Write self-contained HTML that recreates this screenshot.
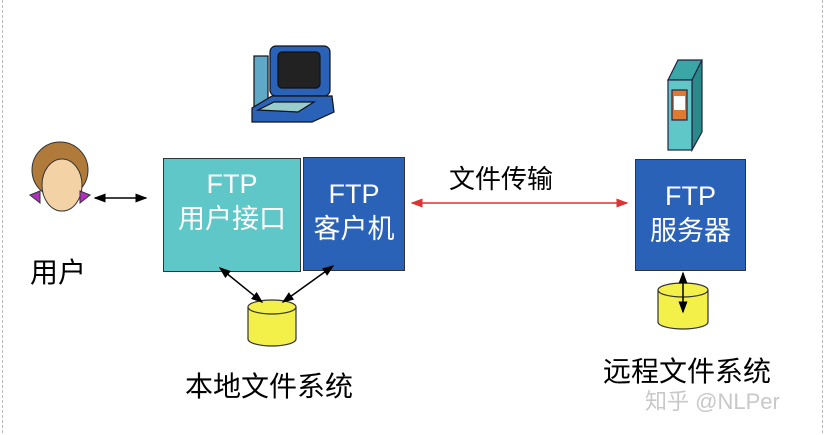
<!DOCTYPE html>
<html><head><meta charset="utf-8"><style>
body{margin:0;width:825px;height:435px;background:#fff;position:relative;overflow:hidden;font-family:"Liberation Sans","Noto Sans CJK SC",sans-serif}
.t{position:absolute;white-space:nowrap}
.box{position:absolute;box-sizing:border-box;border:1.5px solid #333;color:#fff;text-align:center;font-size:27px;line-height:35px}
</style></head><body>
<div style="position:absolute;left:2px;top:0;width:819px;height:433px;border-left:1px dashed #bbb;border-right:1px dashed #bbb"></div>
<div class="box" style="left:163px;top:158px;width:138px;height:114px;background:#5fc7c7;padding-top:8px">FTP<br>用户接口</div>
<div class="box" style="left:303px;top:157px;width:102px;height:114px;background:#2a62b8;padding-top:19px">FTP<br>客户机</div>
<div class="box" style="left:635px;top:159px;width:111px;height:112px;background:#2a62b8;padding-top:19px">FTP<br>服务器</div>
<svg width="825" height="435" style="position:absolute;left:0;top:0">
<defs>
<marker id="a" markerWidth="8" markerHeight="8" refX="7" refY="4" orient="auto-start-reverse"><path d="M0,1 L8,4 L0,7z" fill="#000"/></marker>
<marker id="r" markerWidth="8" markerHeight="8" refX="7" refY="4" orient="auto-start-reverse"><path d="M0,1 L8,4 L0,7z" fill="#d33"/></marker>
</defs>
<g stroke="#333" stroke-width="1.2" fill="#f4f04a">
<path d="M248,307 v32 a24,7 0 0 0 48,0 v-32"/><ellipse cx="272" cy="307" rx="24" ry="7"/>
<path d="M658,290 v32 a25,7 0 0 0 50,0 v-32"/><ellipse cx="683" cy="290" rx="25" ry="7"/>
</g>
<line x1="95" y1="198" x2="146" y2="198" stroke="#000" stroke-width="1.5" marker-start="url(#a)" marker-end="url(#a)"/>
<line x1="220" y1="268" x2="262" y2="302" stroke="#000" stroke-width="1.5" marker-start="url(#a)" marker-end="url(#a)"/>
<line x1="333" y1="266" x2="283" y2="302" stroke="#000" stroke-width="1.5" marker-start="url(#a)" marker-end="url(#a)"/>
<line x1="683" y1="273" x2="683" y2="312" stroke="#000" stroke-width="1.5" marker-start="url(#a)" marker-end="url(#a)"/>
<line x1="412" y1="203" x2="627" y2="203" stroke="#d33" stroke-width="1.5" marker-start="url(#r)" marker-end="url(#r)"/>
<g stroke="#224" stroke-width="1.2">
<path d="M668,80 l10,-20 h24 l-10,20z" fill="#3aa6a6"/>
<path d="M692,80 l10,-20 v72 l-10,18z" fill="#2a8a8a"/>
<rect x="668" y="80" width="24" height="70" fill="#5fc7c7"/>
<rect x="672" y="90" width="15" height="30" fill="#e07a30"/>
<rect x="674" y="96" width="11" height="14" fill="#fff" stroke="none"/>
</g>
<g stroke="#111" stroke-width="1.2">
<rect x="254" y="56" width="14" height="50" fill="#5fa8c8"/>
<rect x="270" y="46" width="60" height="50" rx="6" fill="#2a62b8"/>
<rect x="278" y="52" width="42" height="36" rx="4" fill="#222"/>
<path d="M252,108 l20,-12 h60 l2,16 l-22,10 h-60z" fill="#2a62b8"/>
<path d="M258,110 l16,-8 h40 l-16,10z" fill="#9cc" />
</g>
<g stroke="#333" stroke-width="1">
<ellipse cx="60" cy="170" rx="28" ry="28" fill="#b07a3a"/>
<ellipse cx="62" cy="185" rx="20" ry="26" fill="#f3d2a6"/>
<path d="M30,195 l10,-4 v12z M90,195 l-10,-4 v12z" fill="#b030c0"/>
</g>
</svg>
<div class="t" style="left:449px;top:159px;font-size:26px">文件传输</div>
<div class="t" style="left:30px;top:251px;font-size:28px">用户</div>
<div class="t" style="left:185px;top:365px;font-size:28px">本地文件系统</div>
<div class="t" style="left:603px;top:350px;font-size:28px">远程文件系统</div>
<div class="t" style="left:645px;top:384px;font-size:22px;color:#c8c8c8">知乎 @NLPer</div>
</body></html>
